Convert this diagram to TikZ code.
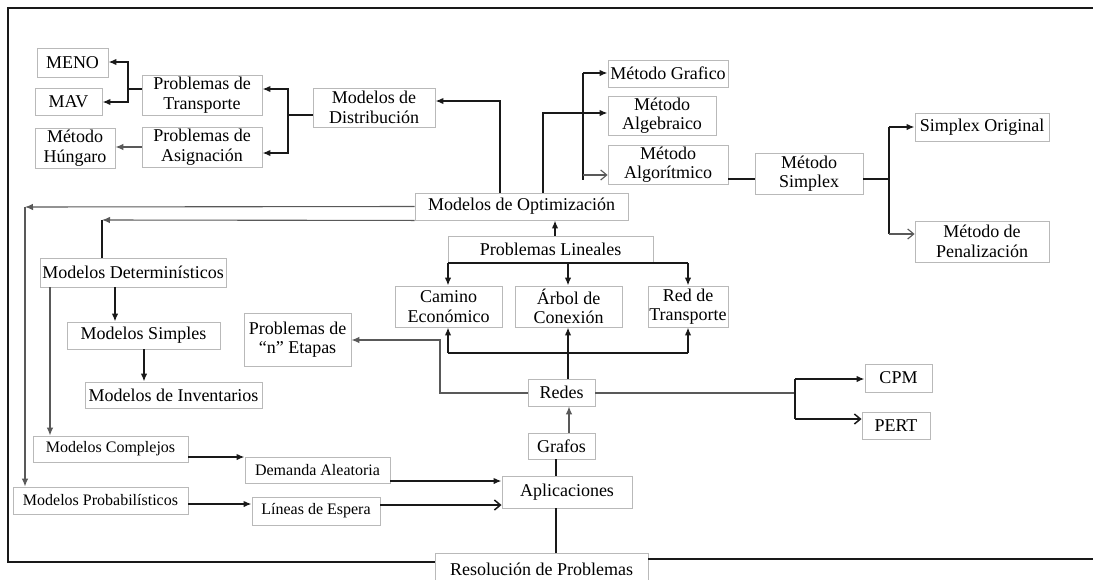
\documentclass[tikz,border=0pt]{standalone}
\usepackage{fontspec}
\setmainfont{Liberation Serif}
\usetikzlibrary{arrows.meta,calc}
\begin{document}
\begin{tikzpicture}[x=1pt,y=-1pt,
  box/.style={draw=gray!55, line width=0.9pt, fill=white, inner sep=1pt, align=center, text=black, font=\fontsize{18}{19.5}\selectfont},
  sbox/.style={box, font=\fontsize{16}{18}\selectfont},
  sz/.style 2 args={minimum width=#1pt, minimum height=#2pt},
  ln/.style={draw=black!90, line width=1.5pt},
  tn/.style={draw=black!65, line width=1.1pt},
  fa/.style={-{Latex[length=8pt,width=6.5pt]}},
  oa/.style={-{Straight Barb[length=6pt,width=10pt]}},
  frame/.style={draw=black!90, line width=2.2pt}
]
\useasboundingbox (0,0) rectangle (1093,579);
\fill[white] (0,0) rectangle (1093,579);

% nodes
\node[box, sz={71}{29}] (meno) at (72.5,62.5) {MENO};
\node[box, sz={67}{27}] (mav) at (68.5,101.5) {MAV};
\node[box, sz={80}{40}] (hung) at (75,148) {Método\\Húngaro};
\node[box, sz={120}{40}] (pt) at (202,95) {Problemas de\\Transporte};
\node[box, sz={120}{40}] (pa) at (202,147) {Problemas de\\Asignación};
\node[box, sz={122}{39}] (md) at (374,107.5) {Modelos de\\Distribución};
\node[box, sz={120}{27}] (mg) at (668,73.5) {Método Grafico};
\node[box, sz={108}{39}] (mal) at (662,115.5) {Método\\Algebraico};
\node[box, sz={120}{39}] (mag) at (668,164.5) {Método\\Algorítmico};
\node[box, sz={213}{27}] (mo) at (521.5,206.5) {Modelos de Optimización};
\node[box, sz={108}{41}] (ms) at (809,173.5) {Método\\Simplex};
\node[box, sz={134}{28}] (so) at (982,127) {Simplex Original};
\node[box, sz={134}{41}] (mpen) at (982,241.5) {Método de\\Penalización};
\node[box, sz={186}{29}] (mdet) at (133,272.5) {Modelos Determinísticos};
\node[box, sz={153}{27}] (msim) at (143.5,335.5) {Modelos Simples};
\node[box, sz={177}{26}] (minv) at (173.5,395) {Modelos de Inventarios};
\node[box, sz={107}{53}] (pne) at (297.5,339.5) {Problemas de\\“n” Etapas};
\node[box, sz={205}{26}] (pl) at (550.5,249) {Problemas Lineales};
\node[box, sz={107}{41}] (ce) at (448.5,306.5) {Camino\\Económico};
\node[box, sz={107}{41}] (ac) at (568.5,306.5) {Árbol de\\Conexión};
\node[box, sz={80}{41}] (rt) at (688,306.5) {Red de\\Transporte};
\node[box, sz={67}{27}] (redes) at (561.5,392.5) {Redes};
\node[box, sz={67}{28}] (cpm) at (898.5,378) {CPM};
\node[box, sz={68}{27}] (pert) at (896,425.5) {PERT};
\node[box, sz={67}{26}] (grafos) at (561.5,446) {Grafos};
\node[box, sz={130}{32}] (apl) at (567,492) {Aplicaciones};
\node[sbox, sz={155}{26}] (mc) at (110.5,449) {Modelos Complejos};
\node[sbox, sz={175}{27}] (mp) at (100.5,500.5) {Modelos Probabilísticos};
\node[sbox, sz={145}{26}] (da) at (317.5,470) {Demanda Aleatoria};
\node[sbox, sz={128}{28}] (le) at (316,511) {Líneas de Espera};
\node[box, sz={213}{36}, anchor=north] (res) at (541.5,553) {Resolución de Problemas\vphantom{g}};

% frame
\draw[frame] (1093,8) -- (8,8) -- (8,562) -- (res.west |- 0,562);
\draw[frame] (res.east |- 0,559) -- (1093,559);

% distribution branch
\draw[ln] (pt.west |- 0,89) -- (128,89);
\draw[ln,fa] (128,89) |- (meno.east |- 0,62);
\draw[ln,fa] (128,89) |- (mav.east |- 0,102);
\draw[tn,fa] (pa.west) -- (hung.east |- pa.west);
\draw[ln] (md.west |- 0,115) -- (288,115);
\draw[ln,fa] (288,115) |- (pt.east |- 0,89);
\draw[ln,fa] (288,115) |- (pa.east |- 0,153);
\draw[ln,fa] (mo.north -| 500,0) |- (md.east |- 0,101);

% methods branch
\draw[ln,fa] (mo.north -| 543,0) |- (mal.west |- 0,113);
\draw[ln] (583,73) -- (583,180);
\draw[ln,fa] (583,73) -- (mg.west |- 0,73);
\draw[tn,oa] (583,175) -- (mag.west |- 0,175);
\draw[ln] (mag.east |- 0,179) -- (ms.west |- 0,179);
\draw[ln] (ms.east |- 0,179) -- (889,179);
\draw[ln] (889,127) -- (889,234);
\draw[ln,fa] (889,127) -- (so.west |- 0,127);
\draw[tn,oa] (889,234) -- (mpen.west |- 0,234);

% left models
\draw[tn,fa] (mo.west) -- (25,207);
\draw[tn,fa] (25,207) -- (mp.north -| 25,0);
\draw[tn,fa] (mo.south west) -- (102,220);
\draw[ln] (102,220) -- (mdet.north -| 102,0);
\draw[ln,fa] (mdet.south -| 115,0) -- (msim.north -| 115,0);
\draw[ln,fa] (msim.south -| 144,0) -- (minv.north -| 144,0);
\draw[tn,fa] (mdet.south -| 50,0) -- (mc.north -| 50,0);
\draw[ln,fa] (mc.east |- 0,457) -- (da.west |- 0,457);
\draw[ln,fa] (mp.east |- 0,504) -- (le.west |- 0,504);
\draw[ln,fa] (da.east |- 0,481) -- (apl.west |- 0,481);
\draw[ln,oa] (le.east |- 0,505) -- (apl.west |- 0,505);

% centre column
\draw[ln] (res.north -| 556,0) -- (apl.south -| 556,0);
\draw[ln] (apl.north -| 556,0) -- (grafos.south -| 556,0);
\draw[tn,fa] (grafos.north -| 569,0) -- (redes.south -| 569,0);
\draw[ln,fa] (redes.north -| 568,0) -- (ac.south -| 568,0);
\draw[ln] (448,353) -- (688,353);
\draw[ln,fa] (448,353) -- (ce.south -| 448,0);
\draw[ln,fa] (688,353) -- (rt.south -| 688,0);
\draw[tn,fa] (redes.west |- 0,393) -- (440,393) |- (pne.east |- 0,340);
\draw[tn] (redes.east |- 0,393) -- (795,393);
\draw[ln] (795,379) -- (795,419);
\draw[ln,fa] (795,379) -- (cpm.west |- 0,379);
\draw[ln,oa] (795,419) -- (pert.west |- 0,419);

% linear problems
\draw[ln,fa] (pl.north -| 555,0) -- (mo.south -| 555,0);
\draw[ln] (448,263) -- (688,263);
\draw[ln,fa] (448,263) -- (ce.north -| 448,0);
\draw[ln,fa] (568,263) -- (ac.north -| 568,0);
\draw[ln,fa] (688,263) -- (rt.north -| 688,0);
\end{tikzpicture}
\end{document}
